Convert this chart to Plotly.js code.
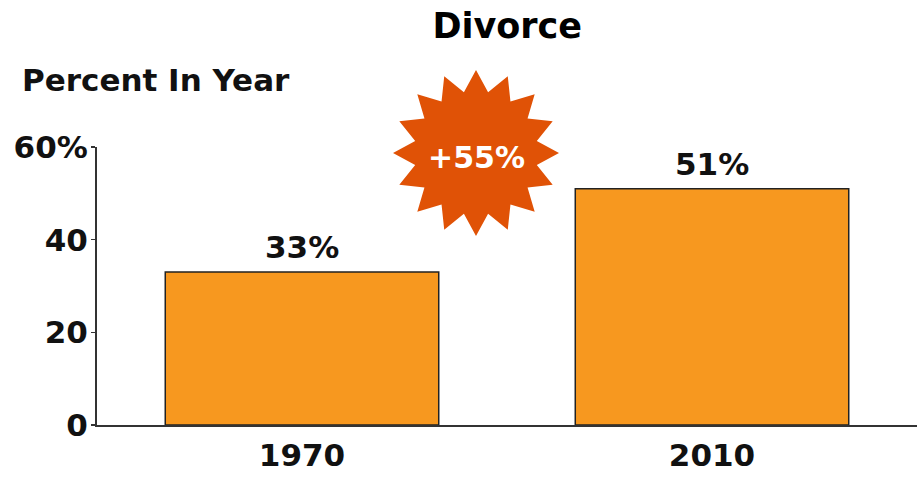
<!DOCTYPE html>
<html>
<head>
<meta charset="utf-8">
<script src="https://cdn.plot.ly/plotly-3.0.1.min.js"></script>
<style>html,body{margin:0;padding:0;background:#fff;}#chart{width:924px;height:479px;}</style>
</head>
<body>
<div id="chart"></div>
<script>
const categories = ["1970", "2010"];
const values = [33, 51];
const valueLabels = ["33%", "51%"];
const tickValues = [0, 20, 40, 60];
const tickLabels = ["0", "20", "40", "60%"];
const changeLabel = "+55%";

const FONT = "'DejaVu Sans', sans-serif";

function starPath(n, rOut, rIn) {
  let p = "";
  for (let i = 0; i < 2 * n; i++) {
    const r = i % 2 === 0 ? rOut : rIn;
    const a = Math.PI / 2 + i * Math.PI / n;
    const x = r * Math.cos(a), y = r * Math.sin(a);
    p += (i === 0 ? "M" : "L") + x.toFixed(2) + "," + y.toFixed(2);
  }
  return p + "Z";
}

const xIdx = categories.map((c, i) => i);

const trace = {
  type: "bar",
  x: xIdx,
  y: values,
  width: 0.667,
  marker: { color: "#F7981F", line: { color: "#222", width: 1.5 } },
  hoverinfo: "skip"
};

const barAnnotations = categories.map((c, i) => ({
  x: i, y: values[i], xref: "x", yref: "y",
  text: valueLabels[i], showarrow: false,
  yanchor: "bottom", yshift: 5,
  font: { family: FONT, size: 31, color: "#111", weight: "bold" }
}));

const layout = {
  width: 924, height: 479,
  margin: { l: 97, r: 7, t: 147, b: 54 },
  paper_bgcolor: "#fff", plot_bgcolor: "#fff",
  showlegend: false,
  title: {
    text: "Divorce", x: 0.549, xanchor: "center", y: 0.946, yanchor: "middle",
    font: { family: FONT, size: 35, color: "#000", weight: "bold" }
  },
  xaxis: {
    range: [-0.5, 1.5],
    tickvals: xIdx, ticktext: categories,
    showline: true, linecolor: "#333", linewidth: 2,
    ticks: "", showgrid: false, zeroline: false,
    tickfont: { family: FONT, size: 31, color: "#111", weight: "bold" },
    ticklabelstandoff: 2
  },
  yaxis: {
    range: [0, 60],
    showline: true, linecolor: "#333", linewidth: 2,
    ticks: "outside", ticklen: 4, tickwidth: 1.5, tickcolor: "#333",
    tickvals: tickValues, ticktext: tickLabels,
    showgrid: false, zeroline: false,
    tickfont: { family: FONT, size: 31, color: "#111", weight: "bold" },
    ticklabelstandoff: -3
  },
  shapes: [{
    type: "path", xref: "paper", yref: "paper",
    xsizemode: "pixel", ysizemode: "pixel",
    xanchor: (476 - 97) / 820, yanchor: (425 - 153) / 278,
    path: starPath(16, 83, 62),
    fillcolor: "#E05206", line: { width: 0 }, layer: "above"
  }],
  annotations: barAnnotations.concat([
    {
      x: (476 - 97) / 820, y: (425 - 157) / 278, xref: "paper", yref: "paper",
      text: changeLabel, showarrow: false, xanchor: "center", yanchor: "middle",
      font: { family: FONT, size: 30, color: "#fff", weight: "bold" }
    },
    {
      x: (20 - 97) / 820, y: (425 - 80) / 278, xref: "paper", yref: "paper",
      xanchor: "left", yanchor: "middle",
      text: "Percent In Year", showarrow: false,
      font: { family: FONT, size: 31, color: "#111", weight: "bold" }
    }
  ])
};

Plotly.newPlot("chart", [trace], layout, { staticPlot: true, displayModeBar: false });
</script>
</body>
</html>
